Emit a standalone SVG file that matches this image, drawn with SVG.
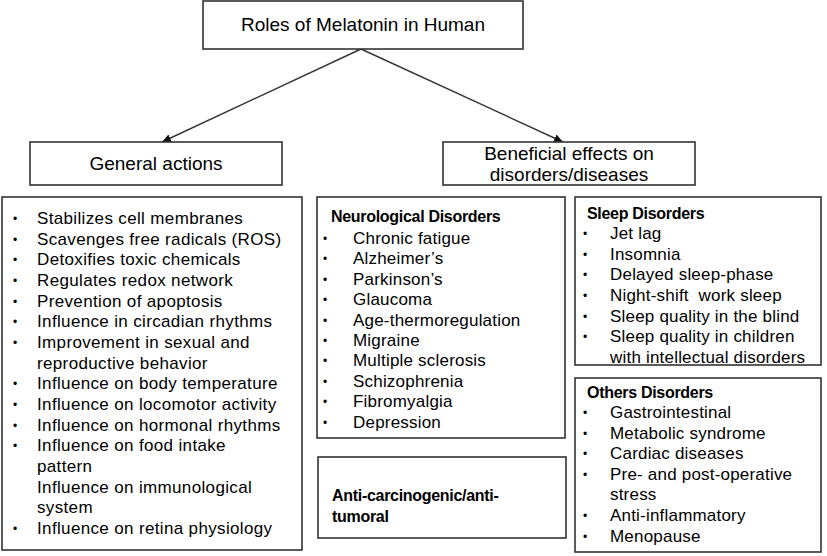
<svg xmlns="http://www.w3.org/2000/svg" width="827" height="556" viewBox="0 0 827 556">
<defs>
<style>
.box{fill:#fff;stroke:#333;stroke-width:1.6}
.hd{font-family:"Liberation Sans",Arial,sans-serif;font-size:19px;fill:#000;text-anchor:middle}
.it{font-family:"Liberation Sans",Arial,sans-serif;font-size:17px;fill:#000;letter-spacing:0.2px}
.bh{font-family:"Liberation Sans",Arial,sans-serif;font-size:16px;font-weight:bold;fill:#000;letter-spacing:-0.3px}
.bu{font-family:"Liberation Sans",Arial,sans-serif;font-size:12px;fill:#000}
.cn{stroke:#333;stroke-width:1.4;fill:none}
</style>
<marker id="ah" markerWidth="10" markerHeight="10" refX="9" refY="5" orient="auto" markerUnits="userSpaceOnUse">
<path d="M0,1 L9,5 L0,9 Z" fill="#111"/>
</marker>
</defs>
<rect width="827" height="556" fill="#fff"/>

<g id="connectors">
<line class="cn" x1="361" y1="49" x2="162" y2="142" marker-end="url(#ah)"/>
<line class="cn" x1="361" y1="49" x2="563" y2="142" marker-end="url(#ah)"/>
</g>

<g id="root">
<rect class="box" x="203" y="1" width="320" height="48"/>
<text class="hd" x="363" y="31">Roles of Melatonin in Human</text>
</g>

<g id="general">
<rect class="box" x="30" y="142" width="252" height="43"/>
<text class="hd" x="156" y="170">General actions</text>
</g>

<g id="beneficial">
<rect class="box" x="443" y="142" width="252" height="43"/>
<text class="hd" x="569" y="160">Beneficial effects on</text>
<text class="hd" x="569" y="181">disorders/diseases</text>
</g>

<g id="general-list">
<rect class="box" x="2" y="197" width="300" height="353"/>
<g class="bu">
<text x="13" y="223">•</text>
<text x="13" y="244">•</text>
<text x="13" y="264">•</text>
<text x="13" y="285">•</text>
<text x="13" y="306">•</text>
<text x="13" y="326">•</text>
<text x="13" y="347">•</text>
<text x="13" y="388">•</text>
<text x="13" y="409">•</text>
<text x="13" y="430">•</text>
<text x="13" y="450">•</text>
<text x="13" y="533">•</text>
</g>
<g class="it" style="letter-spacing:0.35px">
<text x="37" y="224">Stabilizes cell membranes</text>
<text x="37" y="245">Scavenges free radicals (ROS)</text>
<text x="37" y="265">Detoxifies toxic chemicals</text>
<text x="37" y="286">Regulates redox network</text>
<text x="37" y="307">Prevention of apoptosis</text>
<text x="37" y="327">Influence in circadian rhythms</text>
<text x="37" y="348">Improvement in sexual and</text>
<text x="37" y="369">reproductive behavior</text>
<text x="37" y="389">Influence on body temperature</text>
<text x="37" y="410">Influence on locomotor activity</text>
<text x="37" y="431">Influence on hormonal rhythms</text>
<text x="37" y="451">Influence on food intake</text>
<text x="37" y="472">pattern</text>
<text x="37" y="493">Influence on immunological</text>
<text x="37" y="513">system</text>
<text x="37" y="534">Influence on retina physiology</text>
</g>
</g>

<g id="neurological">
<rect class="box" x="317" y="197" width="248" height="241"/>
<text class="bh" x="331" y="222">Neurological Disorders</text>
<g class="bu">
<text x="323" y="243">•</text>
<text x="323" y="263">•</text>
<text x="323" y="284">•</text>
<text x="323" y="304">•</text>
<text x="323" y="325">•</text>
<text x="323" y="345">•</text>
<text x="323" y="365">•</text>
<text x="323" y="386">•</text>
<text x="323" y="406">•</text>
<text x="323" y="427">•</text>
</g>
<g class="it">
<text x="353" y="244">Chronic fatigue</text>
<text x="353" y="264">Alzheimer’s</text>
<text x="353" y="285">Parkinson’s</text>
<text x="353" y="305">Glaucoma</text>
<text x="353" y="326">Age-thermoregulation</text>
<text x="353" y="346">Migraine</text>
<text x="353" y="366">Multiple sclerosis</text>
<text x="353" y="387">Schizophrenia</text>
<text x="353" y="407">Fibromyalgia</text>
<text x="353" y="428">Depression</text>
</g>
</g>

<g id="anticarcinogenic">
<rect class="box" x="318" y="457" width="248" height="81"/>
<text class="bh" x="332" y="501">Anti-carcinogenic/anti-</text>
<text class="bh" x="332" y="522">tumoral</text>
</g>

<g id="sleep">
<rect class="box" x="575" y="197" width="246" height="168"/>
<text class="bh" x="587" y="219">Sleep Disorders</text>
<g class="bu">
<text x="583" y="238">•</text>
<text x="583" y="259">•</text>
<text x="583" y="279">•</text>
<text x="583" y="300">•</text>
<text x="583" y="321">•</text>
<text x="583" y="341">•</text>
</g>
<g class="it">
<text x="610" y="239">Jet lag</text>
<text x="610" y="260">Insomnia</text>
<text x="610" y="280">Delayed sleep-phase</text>
<text x="610" y="301" xml:space="preserve">Night-shift  work sleep</text>
<text x="610" y="322">Sleep quality in the blind</text>
<text x="610" y="342">Sleep quality in children</text>
<text x="610" y="363">with intellectual disorders</text>
</g>
</g>

<g id="others">
<rect class="box" x="575" y="378" width="246" height="174"/>
<text class="bh" x="587" y="398">Others Disorders</text>
<g class="bu">
<text x="583" y="417">•</text>
<text x="583" y="438">•</text>
<text x="583" y="458">•</text>
<text x="583" y="479">•</text>
<text x="583" y="520">•</text>
<text x="583" y="541">•</text>
</g>
<g class="it">
<text x="610" y="418">Gastrointestinal</text>
<text x="610" y="439">Metabolic syndrome</text>
<text x="610" y="459">Cardiac diseases</text>
<text x="610" y="480">Pre- and post-operative</text>
<text x="610" y="500">stress</text>
<text x="610" y="521">Anti-inflammatory</text>
<text x="610" y="542">Menopause</text>
</g>
</g>
</svg>
